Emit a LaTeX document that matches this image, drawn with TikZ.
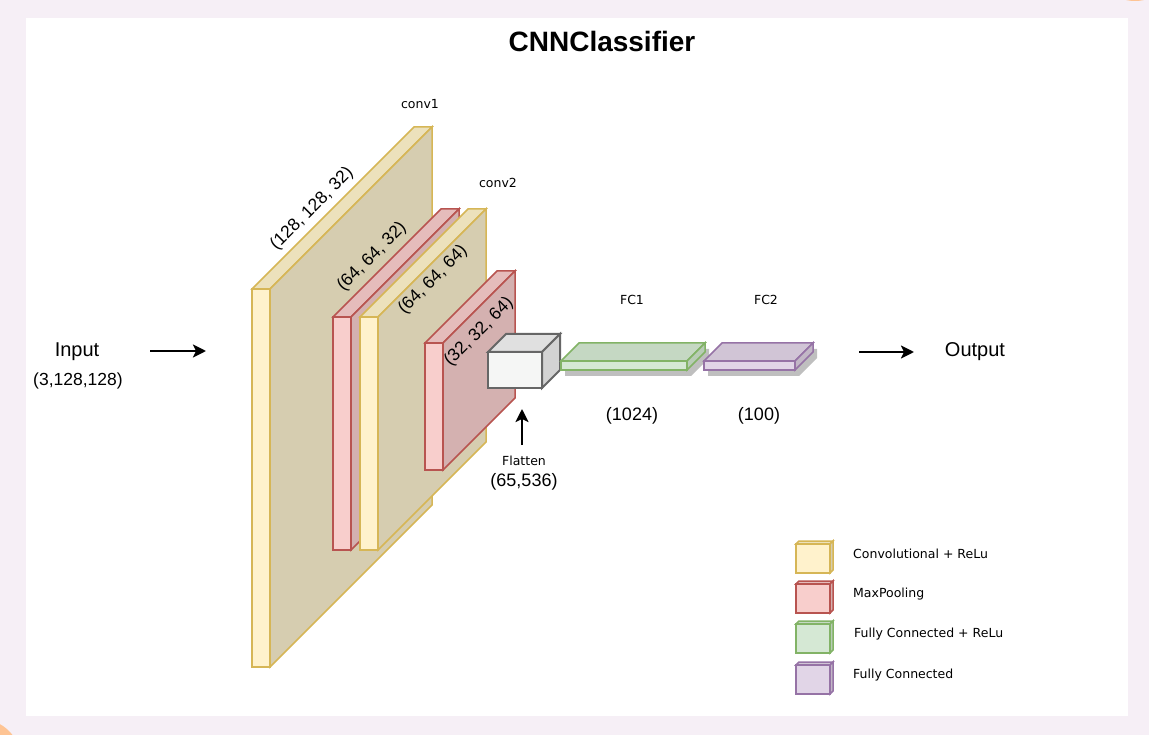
\documentclass[tikz,border=0pt]{standalone}
\usepackage{fontspec}
\setmainfont{Liberation Sans}
\newfontfamily\smallfont{DejaVu Sans}
\usetikzlibrary{arrows.meta}
\definecolor{bgpink}{RGB}{246,239,246}
\definecolor{decor}{RGB}{254,196,148}
\definecolor{yfront}{HTML}{FFF2CC}
\definecolor{ytop}{RGB}{236,225,188}
\definecolor{yside}{RGB}{214,205,176}
\definecolor{ystroke}{HTML}{D6B656}
\definecolor{rfront}{HTML}{F8CECC}
\definecolor{rtop}{RGB}{229,188,187}
\definecolor{rside}{RGB}{212,177,176}
\definecolor{rstroke}{HTML}{B85450}
\definecolor{gfront}{HTML}{F5F6F5}
\definecolor{gtop}{RGB}{224,224,224}
\definecolor{gside}{RGB}{211,211,211}
\definecolor{gstroke}{HTML}{666666}
\definecolor{nfront}{HTML}{D5E8D4}
\definecolor{ntop}{RGB}{197,216,195}
\definecolor{nside}{RGB}{184,204,182}
\definecolor{nstroke}{HTML}{82B366}
\definecolor{pfront}{HTML}{E1D5E7}
\definecolor{ptop}{RGB}{209,197,214}
\definecolor{pside}{RGB}{194,183,198}
\definecolor{pstroke}{HTML}{9673A6}
% #1 x1, #2 y1 (top), #3 x2, #4 y2 (bottom), #5 depth, #6 front, #7 top, #8 side, #9 stroke
\newcommand\cubebox[9]{%
  \filldraw[fill=#7,draw=#9,cubeline] (#1,#2) -- ({#1+#5},{#2-#5}) -- ({#3+#5},{#2-#5}) -- (#3,#2) -- cycle;
  \filldraw[fill=#8,draw=#9,cubeline] (#3,#2) -- ({#3+#5},{#2-#5}) -- ({#3+#5},{#4-#5}) -- (#3,#4) -- cycle;
  \filldraw[fill=#6,draw=#9,cubeline] (#1,#2) rectangle (#3,#4);
}
\newcommand\cubeshadow[5]{%
  \fill[black,opacity=0.25] ({#1+4},{#2+6}) -- ({#1+#5+4},{#2-#5+6}) -- ({#3+#5+4},{#2-#5+6}) -- ({#3+#5+4},{#4-#5+6}) -- ({#3+4},{#4+6}) -- ({#1+4},{#4+6}) -- cycle;
}
\begin{document}
\begin{tikzpicture}[x=1pt,y=-1pt,
  cubeline/.style={line width=1.5pt,line join=miter},
  arr/.style={line width=2.4pt,-{Stealth[length=13pt,width=13pt,inset=3pt]}},
  lbl/.style={inner sep=0pt,font=\fontsize{18}{20}\selectfont},
  big/.style={inner sep=0pt,font=\fontsize{20}{24}\selectfont},
  dims/.style={inner sep=0pt,rotate=45,font=\fontsize{17.5}{20}\selectfont},
  small/.style={inner sep=0pt,font=\smallfont\fontsize{12.5}{14}\selectfont},
  legtext/.style={inner sep=0pt,anchor=west,font=\smallfont\fontsize{12.5}{14}\selectfont}]
\useasboundingbox (0,0) rectangle (1149,735);
\fill[bgpink] (0,0) rectangle (1149,735);
\begin{scope}
  \clip (0,0) rectangle (1149,735);
  \fill[decor] (-20,760) circle[radius=41pt];
  \fill[decor] (1135,-40) circle[radius=41pt];
\end{scope}
\fill[white] (26,18) rectangle (1128,716);

% title
\node[inner sep=0pt,font=\fontsize{28}{32}\selectfont\bfseries] (title) at (602,41) {CNNClassifier};

% conv1
\cubebox{252}{289}{270}{667}{162}{yfront}{ytop}{yside}{ystroke}
% maxpool1
\cubebox{333}{317}{351}{550}{108}{rfront}{rtop}{rside}{rstroke}
% conv2
\cubebox{360}{317}{378}{550}{108}{yfront}{ytop}{yside}{ystroke}
% maxpool2
\cubebox{425}{343}{443}{470}{72}{rfront}{rtop}{rside}{rstroke}
% flatten
\begin{scope}[cubeline/.style={line width=2pt,line join=miter}]
\cubebox{488}{352}{542}{388}{18}{gfront}{gtop}{gside}{gstroke}
\end{scope}
% FC1, FC2
\cubeshadow{561}{361}{687}{370}{18}
\cubebox{561}{361}{687}{370}{18}{nfront}{ntop}{nside}{nstroke}
\cubeshadow{704}{361}{795}{370}{18}
\cubebox{704}{361}{795}{370}{18}{pfront}{ptop}{pside}{pstroke}

% labels
\node[small] (conv1) at (420,104) {conv1};
\node[small] (conv2) at (498,183) {conv2};
\node[dims] (d1) at (312,209) {(128, 128, 32)};
\node[dims] (d2) at (372,257) {(64, 64, 32)};
\node[dims] (d3) at (433,280) {(64, 64, 64)};
\node[dims] (d4) at (479,332) {(32, 32, 64)};
\node[small] (fc1) at (632,300) {FC1};
\node[small] (fc2) at (766,300) {FC2};
\node[lbl] (n1024) at (632,416) {(1024)};
\node[lbl] (n100) at (759,416) {(100)};
\node[small] (flat) at (524,461) {Flatten};
\node[lbl] (n65) at (524,482) {(65,536)};

% input / output
\node[big] (input) at (77,352) {Input};
\node[inner sep=0pt,font=\fontsize{17.5}{20}\selectfont] (insize) at (78,381) {(3,128,128)};
\node[big] (output) at (975,352) {Output};
\coordinate (ia) at (150,351);
\coordinate (ib) at (206,351);
\coordinate (oa) at (859,352);
\coordinate (ob) at (914,352);
\coordinate (fa) at (522,445);
\coordinate (fb) at (522,409);
\draw[arr] (ia) -- (ib);
\draw[arr] (oa) -- (ob);
\draw[arr] (fa) -- (fb);

% legend
\cubebox{796}{544}{830}{573}{3}{yfront}{ytop}{yside}{ystroke}
\cubebox{796}{584}{830}{613}{3}{rfront}{rtop}{rside}{rstroke}
\cubebox{796}{624}{830}{653}{3}{nfront}{ntop}{nside}{nstroke}
\cubebox{796}{665}{830}{694}{3}{pfront}{ptop}{pside}{pstroke}
\node[legtext] (l1) at (853,554) {Convolutional + ReLu};
\node[legtext] (l2) at (853,594) {MaxPooling};
\node[legtext] (l3) at (854,634) {Fully Connected + ReLu};
\node[legtext] (l4) at (853,675) {Fully Connected};
\end{tikzpicture}
\end{document}
